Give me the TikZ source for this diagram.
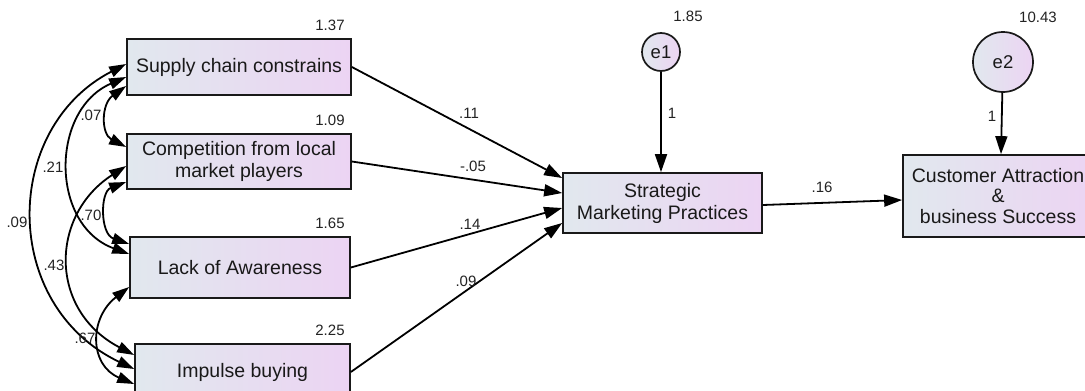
\documentclass[tikz,border=0pt]{standalone}
\usepackage{fontspec}
\setmainfont{Liberation Sans}
\usetikzlibrary{arrows.meta,calc}
\definecolor{boxL}{RGB}{225,232,238}
\definecolor{boxR}{RGB}{236,212,243}
\definecolor{ink}{RGB}{25,25,25}
\definecolor{lab}{RGB}{35,35,35}
\begin{document}
\begin{tikzpicture}[x=1pt,y=-1pt,
  var/.style={draw=ink, line width=1.7pt, left color=boxL, right color=boxR, inner sep=0pt, align=center, font=\fontsize{19.5}{22}\selectfont, text=ink},
  err/.style={draw=ink, line width=1.7pt, circle, left color=boxL, right color=boxR, inner sep=0pt, font=\fontsize{18.5}{22}\selectfont, text=ink},
  lbl/.style={font=\fontsize{15}{18}\selectfont, text=lab, inner sep=0pt},
  patharr/.style={draw=black, line width=1.8pt, -{Triangle[length=18pt,width=12pt]}},
  cov/.style={draw=black, line width=1.8pt, {Triangle[length=17pt,width=11pt]}-{Triangle[length=17pt,width=11pt]}}
]
\fill[white] (0,0) rectangle (1085,391);
\useasboundingbox (0,0) rectangle (1085,391);

% observed variables
\node[var, minimum width=224pt, minimum height=56pt] (sc) at (239,67) {Supply chain constrains};
\node[var, minimum width=224pt, minimum height=55pt] (cp) at (239,161.5) {Competition from local\\market players};
\node[var, minimum width=220pt, minimum height=61pt] (la) at (240,267.5) {Lack of Awareness};
\node[var, minimum width=215pt, minimum height=56pt] (ib) at (242.5,372) {Impulse buying};
\node[var, minimum width=199pt, minimum height=60pt] (smp) at (662.5,203) {Strategic\\Marketing Practices};
\node[var, minimum width=190pt, minimum height=82pt, font=\fontsize{19.5}{20.5}\selectfont] (cab) at (998,196) {Customer Attraction\\\&\\business Success};

% error terms
\node[err, minimum size=38pt] (e1) at (661,52) {e1};
\node[err, minimum size=60pt] (e2) at (1003,62) {e2};

% directed paths
\draw[patharr] (sc.east) -- ($(smp.west)+(0,-25)$);
\draw[patharr] (cp.east) -- ($(smp.west)+(0,-10)$);
\draw[patharr] (la.east) -- ($(smp.west)+(0,5)$);
\draw[patharr] (ib.east) -- ($(smp.west)+(0,20)$);
\draw[patharr] ($(smp.east)+(0,2)$) -- ($(cab.west)+(0,4)$);
\draw[patharr] (e1.south) -- (e1.south |- smp.north);
\draw[patharr] (e2) -- ($(cab.north)+(3,0)$);

% covariances
\draw[cov] ($(sc.west)+(0,19)$) .. controls (101,104) and (101,134) .. ($(cp.west)+(0,-14.5)$);
\draw[cov] ($(sc.west)+(0,10)$) .. controls (50,110) and (50,225) .. ($(la.west)+(0,-13.5)$);
\draw[cov] ($(sc.west)+(0,-3)$) .. controls (2,128) and (0,305) .. ($(ib.west)+(0,-3)$);
\draw[cov] ($(cp.west)+(0,20.5)$) .. controls (100,192) and (100,234) .. ($(la.west)+(0,-23.5)$);
\draw[cov] ($(cp.west)+(0,4.5)$) .. controls (50,215) and (48,310) .. ($(ib.west)+(0,-17)$);
\draw[cov] ($(la.west)+(0,19.5)$) .. controls (89,318) and (89,365) .. ($(ib.west)+(0,12)$);

% variance labels
\node[lbl] (v1) at (330,25) {1.37};
\node[lbl] (v2) at (330,120) {1.09};
\node[lbl] (v3) at (330,223) {1.65};
\node[lbl] (v4) at (330,330) {2.25};
\node[lbl] (v5) at (688,16) {1.85};
\node[lbl] (v6) at (1038,17) {10.43};

% path labels
\node[lbl] (p1) at (469,113) {.11};
\node[lbl] (p2) at (473,166) {-.05};
\node[lbl] (p3) at (470,224) {.14};
\node[lbl] (p4) at (466,281) {.09};
\node[lbl] (p5) at (822,187) {.16};
\node[lbl] (p6) at (672,113) {1};
\node[lbl] (p7) at (992,116) {1};

% covariance labels
\node[lbl] (c1) at (91,115) {.07};
\node[lbl] (c2) at (53,167) {.21};
\node[lbl] (c3) at (17,222) {.09};
\node[lbl] (c4) at (91,215) {.70};
\node[lbl] (c5) at (54,265) {.43};
\node[lbl] (c6) at (85,338) {.67};
\end{tikzpicture}
\end{document}
